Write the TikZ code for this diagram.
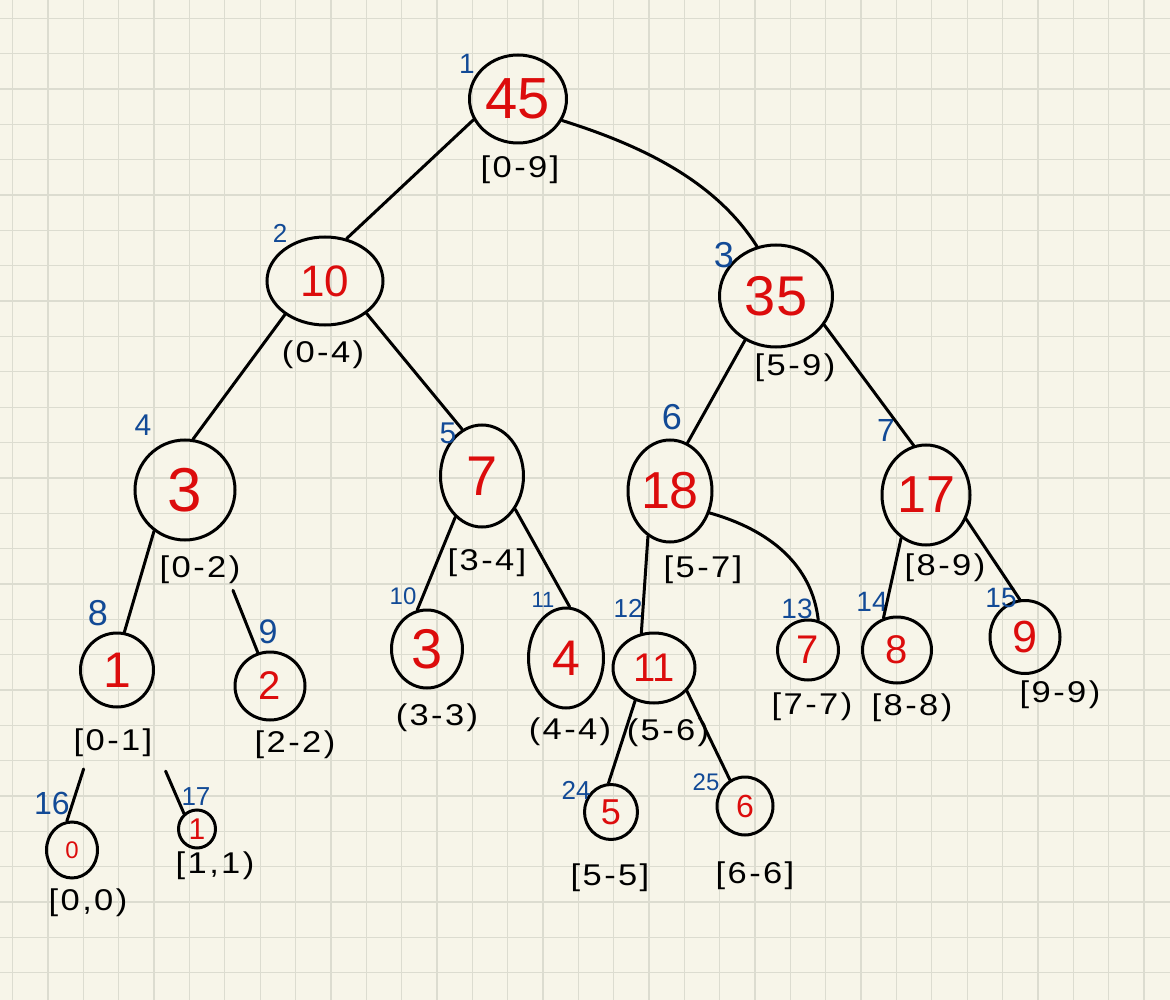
\documentclass[tikz,border=0pt]{standalone}
\usepackage{fontspec}
\setmainfont{Liberation Sans}
\newfontfamily\hand[FakeStretch=1.15,LetterSpace=8]{Liberation Sans}
\usetikzlibrary{shapes.geometric}
\definecolor{paper}{RGB}{247,245,233}
\definecolor{gridc}{RGB}{220,220,208}
\definecolor{valred}{RGB}{220,12,12}
\definecolor{idxblue}{RGB}{18,74,150}
\newcommand\myfs[1]{\fontsize{#1}{#1}\selectfont}
\begin{document}
\begin{tikzpicture}[x=1pt,y=-1pt,
  tnode/.style={ellipse, draw=black, line width=3pt, inner sep=0pt, text=valred},
  edge/.style={line width=3pt, line cap=round},
  idx/.style={text=idxblue, inner sep=0pt},
  rng/.style={text=black, font=\hand\myfs{30}, inner sep=0pt},
]
\fill[paper] (0,0) rectangle (1170,1000);
\useasboundingbox (0,0) rectangle (1170,1000);
\foreach \i in {0,...,32} \draw[gridc, line width=1.3pt] ({12.7+35.35*\i},0) -- ({12.7+35.35*\i},1000);
\foreach \i in {0,...,28} \draw[gridc, line width=1.3pt] (0,{18.3+35.35*\i}) -- (1170,{18.3+35.35*\i});

% tree nodes
\node[tnode, minimum width=97pt, minimum height=88pt, font=\myfs{58}] (n1) at (518,99) {45};
\node[tnode, minimum width=116pt, minimum height=88pt, font=\myfs{44}] (n2) at (325,281) {10};
\node[tnode, minimum width=113pt, minimum height=102pt, font=\myfs{56}] (n3) at (776,296) {35};
\node[tnode, minimum width=100pt, minimum height=100pt, font=\myfs{62}] (n4) at (185,490) {3};
\node[tnode, minimum width=83pt, minimum height=102pt, font=\myfs{56}] (n5) at (482,476) {7};
\node[tnode, minimum width=84pt, minimum height=102pt, font=\myfs{52}] (n6) at (670,491) {18};
\node[tnode, minimum width=88pt, minimum height=100pt, font=\myfs{52}] (n7) at (926,495) {17};
\node[tnode, minimum width=73pt, minimum height=74pt, font=\myfs{50}] (n8) at (117,670) {1};
\node[tnode, minimum width=70pt, minimum height=68pt, font=\myfs{40}] (n9) at (270,686) {2};
\node[tnode, minimum width=71pt, minimum height=78pt, font=\myfs{56}] (n10) at (427,649) {3};
\node[tnode, minimum width=75pt, minimum height=100pt, font=\myfs{50}] (n11) at (566,658) {4};
\node[tnode, minimum width=82pt, minimum height=70pt, font=\myfs{40}] (n12) at (654,668) {11};
\node[tnode, minimum width=61pt, minimum height=60pt, font=\myfs{40}] (n13) at (808,650) {7};
\node[tnode, minimum width=69pt, minimum height=66pt, font=\myfs{40}] (n14) at (897,650) {8};
\node[tnode, minimum width=70pt, minimum height=73pt, font=\myfs{45}] (n15) at (1025,637) {9};
\node[tnode, minimum width=51pt, minimum height=56pt, font=\myfs{24}] (n16) at (72,850) {0};
\node[tnode, minimum width=37pt, minimum height=38pt, font=\myfs{30}] (n17) at (197,829) {1};
\node[tnode, minimum width=53pt, minimum height=55pt, font=\myfs{36}] (n24) at (611,812) {5};
\node[tnode, minimum width=56pt, minimum height=58pt, font=\myfs{32}] (n25) at (745,806) {6};

% index labels
\node[idx, font=\myfs{28}] (i1) at (467,64) {1};
\node[idx, font=\myfs{26}] (i2) at (280,233) {2};
\node[idx, font=\myfs{36}] (i3) at (724,255) {3};
\node[idx, font=\myfs{30}] (i4) at (143,425) {4};
\node[idx, font=\myfs{30}] (i5) at (448,433) {5};
\node[idx, font=\myfs{36}] (i6) at (672,417) {6};
\node[idx, font=\myfs{32}] (i7) at (886,430) {7};
\node[idx, font=\myfs{36}] (i8) at (98,613) {8};
\node[idx, font=\myfs{34}] (i9) at (268,632) {9};
\node[idx, font=\myfs{24}] (i10) at (403,596) {10};
\node[idx, font=\myfs{22}] (i11) at (543,600) {11};
\node[idx, font=\myfs{26}] (i12) at (628,608) {12};
\node[idx, font=\myfs{28}] (i13) at (797,609) {13};
\node[idx, font=\myfs{28}] (i14) at (872,602) {14};
\node[idx, font=\myfs{28}] (i15) at (1001,598) {15};
\node[idx, font=\myfs{32}] (i16) at (52,803) {16};
\node[idx, font=\myfs{26}] (i17) at (196,797) {17};
\node[idx, font=\myfs{26}] (i24) at (576,790) {24};
\node[idx, font=\myfs{24}] (i25) at (706,782) {25};

% range labels
\node[rng] (r1) at (520,170) {[0-9]};
\node[rng] (r2) at (323,355) {(0-4)};
\node[rng] (r3) at (795,368) {[5-9)};
\node[rng] (r4) at (200,570) {[0-2)};
\node[rng] (r5) at (487,563) {[3-4]};
\node[rng] (r6) at (703,570) {[5-7]};
\node[rng] (r7) at (945,568) {[8-9)};
\node[rng] (r8) at (113,743) {[0-1]};
\node[rng] (r9) at (295,745) {[2-2)};
\node[rng] (r10) at (437,718) {(3-3)};
\node[rng] (r11) at (570,732) {(4-4)};
\node[rng] (r12) at (668,733) {(5-6)};
\node[rng] (r13) at (812,707) {[7-7)};
\node[rng] (r14) at (912,708) {[8-8)};
\node[rng] (r15) at (1060,695) {[9-9)};
\node[rng] (r16) at (88,903) {[0,0)};
\node[rng] (r17) at (215,866) {[1,1)};
\node[rng] (r24) at (610,878) {[5-5]};
\node[rng] (r25) at (755,876) {[6-6]};

% edges
\draw[edge] (n1.205) -- (n2.63);
\draw[edge] (n1.334) .. controls (640,145) and (715,180) .. (n3.111);
\draw[edge] (n2.220) -- (n4.81);
\draw[edge] (n2.322) -- (n5.113);
\draw[edge] (n3.235) -- (n6.70);
\draw[edge] (n3.329) -- (n7.104);
\draw[edge] (n4.233) -- (n8.79);
\draw[edge, shorten <=60pt] (n4.300) -- (n9.110);
\draw[edge] (n5.237) -- (n10.104);
\draw[edge] (n5.315) -- (n11.86);
\draw[edge] (n6.244) -- (n12.110);
\draw[edge] (n6.331) .. controls (770,530) and (812,565) .. (n13.71);
\draw[edge] (n7.240) -- (n14.113);
\draw[edge] (n7.329) -- (n15.98);
\draw[edge, shorten <=66pt] (n8.250) -- (n16.100);
\draw[edge, shorten <=74pt] (n8.300) -- (n17.130);
\draw[edge] (n12.240) -- (n24.95);
\draw[edge] (n12.325) -- (n25.120);
\end{tikzpicture}
\end{document}
